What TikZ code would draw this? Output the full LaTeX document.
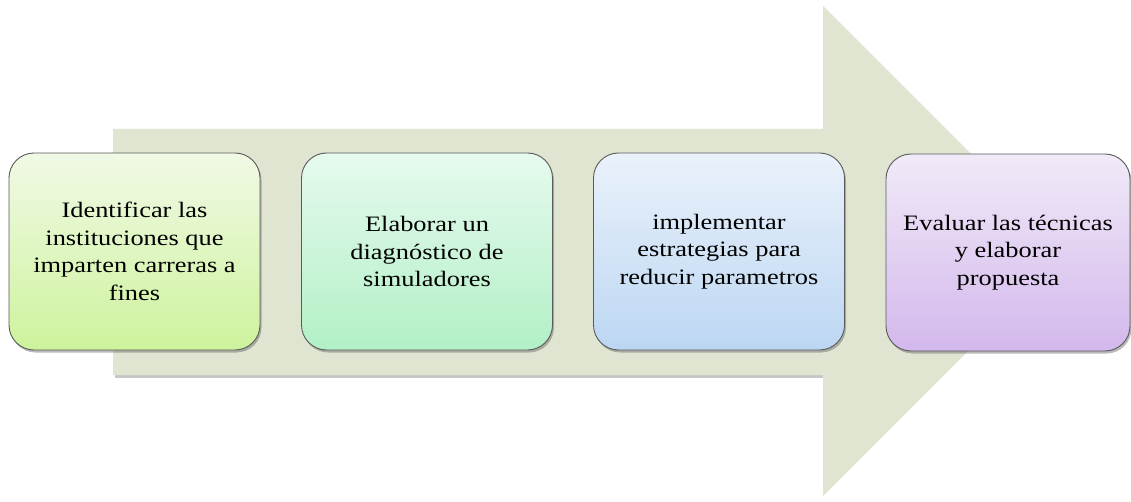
\documentclass[tikz,border=0pt]{standalone}
\usepackage{fontspec}
\setmainfont{Liberation Serif}
\newfontfamily\boxfont[FakeStretch=1.2]{Liberation Serif}
\usetikzlibrary{shadows}
\definecolor{arrowfill}{HTML}{DFE5D1}
\definecolor{boxline}{HTML}{5A5A5A}
\definecolor{gAtop}{HTML}{F1F9E6}\definecolor{gAbot}{HTML}{CDF39C}
\definecolor{gBtop}{HTML}{E6FAEE}\definecolor{gBbot}{HTML}{B2F0C6}
\definecolor{gCtop}{HTML}{EAF2FB}\definecolor{gCbot}{HTML}{BCD6F2}
\definecolor{gDtop}{HTML}{F1EAF8}\definecolor{gDbot}{HTML}{D3B8EC}
\tikzset{
  stepbox/.style={draw=boxline, line width=0.9pt, rounded corners=25pt,
    minimum width=251pt, minimum height=197pt, align=center,
    font=\boxfont\fontsize{22}{27.7}\selectfont,
    inner sep=0pt,
    drop shadow={shadow xshift=1.5pt, shadow yshift=-2.5pt, opacity=0.45, fill=black!60}},
}
\begin{document}
\begin{tikzpicture}[x=1pt,y=-1pt]
\useasboundingbox (0,0) rectangle (1131,502);
\fill[white] (0,0) rectangle (1131,502);
% shadow of arrow body
\fill[black!22] (115,131) -- (825,131) -- (825,378) -- (115,378) -- cycle;
\fill[arrowfill] (113,129) -- (823,129) -- (823,6) -- (1068,251) -- (823,496) -- (823,375) -- (113,375) -- cycle;
\node[stepbox, top color=gAtop, bottom color=gAbot] (s1) at (134.5,251.5) {Identificar las\\instituciones que\\imparten carreras a\\fines};
\node[stepbox, top color=gBtop, bottom color=gBbot] (s2) at (427,251.5) {Elaborar un\\diagnóstico de\\simuladores};
\node[stepbox, top color=gCtop, bottom color=gCbot] (s3) at (719,251.5) {implementar\\estrategias para\\reducir parametros};
\node[stepbox, minimum width=244pt, top color=gDtop, bottom color=gDbot] (s4) at (1008,252.5) {Evaluar las técnicas\\y elaborar\\propuesta};
\end{tikzpicture}
\end{document}
